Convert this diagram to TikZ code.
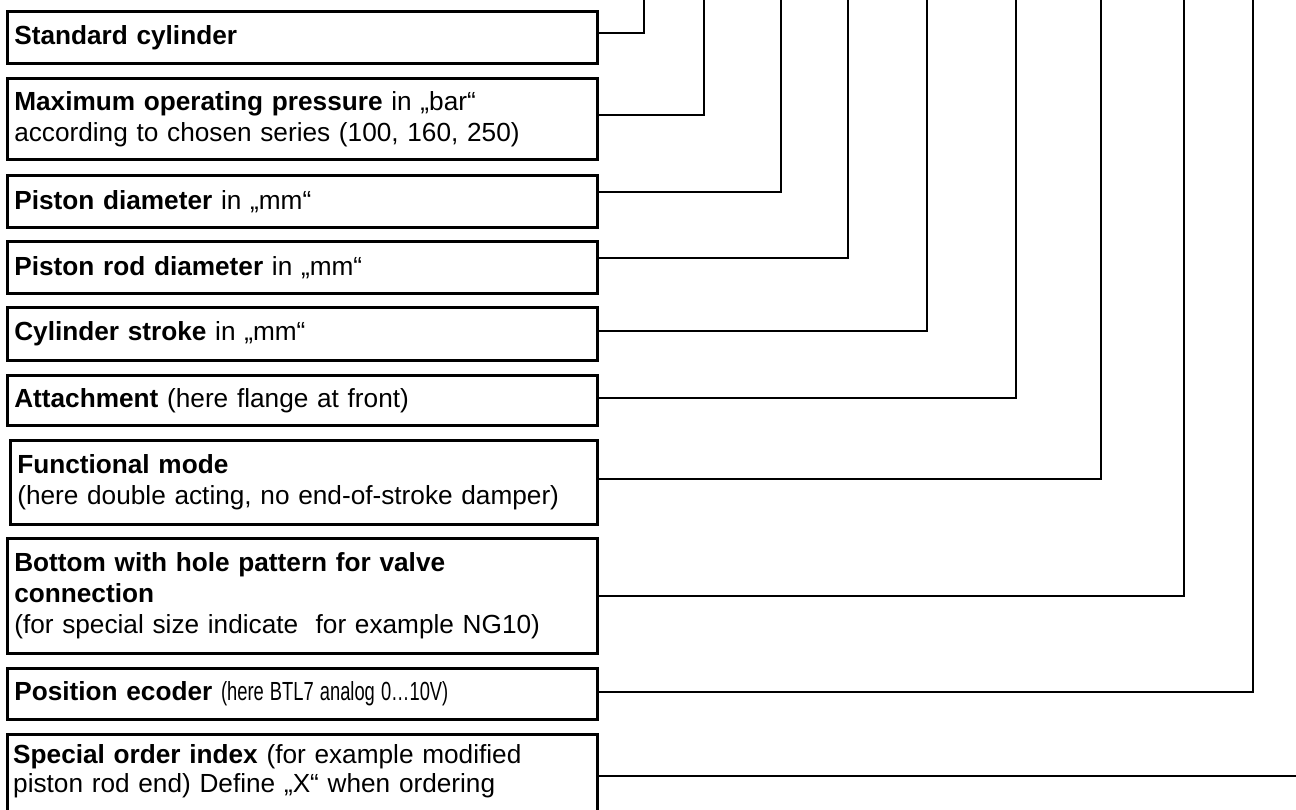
\documentclass[tikz,border=0pt]{standalone}
\usepackage{fontspec}
\setmainfont{Liberation Sans}
\begin{document}
\begin{tikzpicture}[x=1pt,y=-1pt,
  box/.style={draw, line width=2.6pt, rectangle, inner xsep=7pt, inner ysep=0pt,
    text width=576pt, minimum width=590pt, align=left, anchor=north west,
    font=\fontsize{26.2}{31}\selectfont},
  conn/.style={line width=2.6pt}]
\useasboundingbox (0,0) rectangle (1296,809);
\clip (0,0) rectangle (1296,809);
\fill[white] (0,0) rectangle (1296,809);

\node[box, minimum height=52pt] (b1) at (6,10) {\textbf{Standard cylinder}};
\node[box, minimum height=81pt] (b2) at (6,77) {\textbf{Maximum operating pressure} in „bar“\\according to chosen series (100, 160, 250)};
\node[box, minimum height=52pt] (b3) at (6,174) {\textbf{Piston diameter} in „mm“};
\node[box, minimum height=52pt] (b4) at (6,240) {\textbf{Piston rod diameter} in „mm“};
\node[box, minimum height=53pt] (b5) at (6,306) {\textbf{Cylinder stroke} in „mm“};
\node[box, minimum height=50pt] (b6) at (6,374) {\textbf{Attachment} (here flange at front)};
\node[box, minimum height=84pt, text width=573pt, minimum width=587pt] (b7) at (9,439) {\textbf{Functional mode}\\(here double acting, no end-of-stroke damper)};
\node[box, minimum height=115pt] (b8) at (6,537) {\textbf{Bottom with hole pattern for valve}\\\textbf{connection}\\(for special size indicate\ \ for example NG10)};
\node[box, minimum height=51pt] (b9) at (6,667) {\textbf{Position ecoder} \scalebox{0.7}[1]{(here BTL7 analog 0…10V)}};
\node[box, minimum height=86pt] (b10) at (6,733) {};
\node[anchor=north west, inner sep=0pt, text width=576pt, align=left,
  font=\fontsize{26.2}{29}\selectfont] (t10txt) at ([xshift=7pt,yshift=-11pt]b10.north west)
  {\textbf{Special order index} (for example modified\\piston rod end) Define „X“ when ordering};

\coordinate (t1) at (644,-3);
\coordinate (t2) at (704,-3);
\coordinate (t3) at (781,-3);
\coordinate (t4) at (848,-3);
\coordinate (t5) at (927,-3);
\coordinate (t6) at (1016,-3);
\coordinate (t7) at (1101,-3);
\coordinate (t8) at (1184,-3);
\coordinate (t9) at (1253,-3);
\coordinate (t10) at (1300,776);

\draw[conn] (b1.east |- 0,33) -| (t1);
\draw[conn] (b2.east |- 0,115) -| (t2);
\draw[conn] (b3.east |- 0,192) -| (t3);
\draw[conn] (b4.east |- 0,258) -| (t4);
\draw[conn] (b5.east |- 0,331) -| (t5);
\draw[conn] (b6.east |- 0,398) -| (t6);
\draw[conn] (b7.east |- 0,479) -| (t7);
\draw[conn] (b8.east |- 0,596) -| (t8);
\draw[conn] (b9.east |- 0,692) -| (t9);
\draw[conn] (b10.east |- t10) -- (t10);
\end{tikzpicture}
\end{document}
